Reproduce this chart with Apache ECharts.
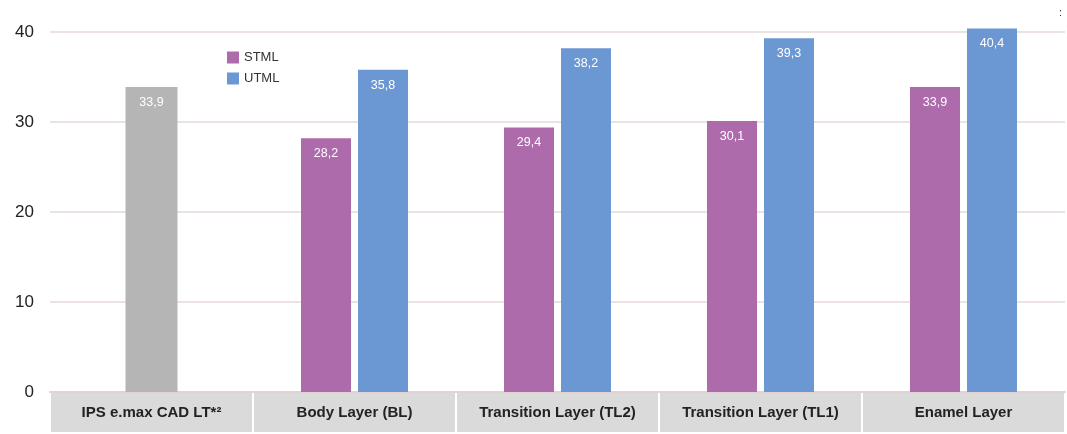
<!DOCTYPE html>
<html><head><meta charset="utf-8">
<script src="https://cdn.jsdelivr.net/npm/echarts@6/dist/echarts.min.js"></script>
<style>html,body{margin:0;padding:0;background:#fff}#c{width:1067px;height:434px}</style>
</head><body><div id="c"></div>
<script>
const categories = ['IPS e.max CAD LT*²', 'Body Layer (BL)', 'Transition Layer (TL2)', 'Transition Layer (TL1)', 'Enamel Layer'];
const refValues = [33.9, null, null, null, null];
const stmlValues = [null, 28.2, 29.4, 30.1, 33.9];
const utmlValues = [null, 35.8, 38.2, 39.3, 40.4];
const yTicks = [0, 10, 20, 30, 40];

const font = '"Liberation Sans", Arial, sans-serif';
const fmt = p => String(p.value).replace('.', ',');
const barLabel = {show: true, position: 'insideTop', distance: 9, color: '#fff', fontSize: 12.5, fontFamily: font, formatter: fmt};

const chart = echarts.init(document.getElementById('c'), null, {renderer: 'canvas'});
chart.setOption({
  animation: false,
  backgroundColor: '#fff',
  title: {text: ':', right: 0, top: 2, textStyle: {fontSize: 11, color: '#333', fontWeight: 'normal'}},
  legend: {
    orient: 'vertical', left: 222, top: 46, itemWidth: 12, itemHeight: 12, itemGap: 8,
    icon: 'rect', data: ['STML', 'UTML'],
    textStyle: {fontFamily: font, fontSize: 13, color: '#333'}
  },
  grid: {left: 50, right: 2, top: 32, bottom: 42},
  xAxis: [{
    type: 'category', data: categories,
    axisLine: {show: true, lineStyle: {color: '#e2d3d3', width: 2}},
    axisTick: {show: false},
    axisLabel: {
      interval: 0, margin: 1, width: 201, height: 39, lineHeight: 39,
      backgroundColor: '#dadada', align: 'center', verticalAlign: 'top',
      fontFamily: font, fontWeight: 'bold', fontSize: 15, color: '#222'
    }
  }, {
    type: 'category', data: categories, show: false
  }],
  yAxis: {
    type: 'value', min: yTicks[0], max: yTicks[yTicks.length - 1], interval: 10,
    axisLine: {show: false}, axisTick: {show: false},
    axisLabel: {margin: 16, fontFamily: font, fontSize: 17, color: '#222'},
    splitLine: {lineStyle: {color: '#e6d9d9', width: 1.5}}
  },
  series: [
    {name: 'IPS', type: 'bar', xAxisIndex: 1, data: refValues, barWidth: 52, clip: false,
     itemStyle: {color: '#b5b5b5'}, label: barLabel},
    {name: 'STML', type: 'bar', xAxisIndex: 0, data: stmlValues, barWidth: 50, barGap: '14%', clip: false,
     itemStyle: {color: '#ad6bac'}, label: barLabel},
    {name: 'UTML', type: 'bar', xAxisIndex: 0, data: utmlValues, barWidth: 50, barGap: '14%', clip: false,
     itemStyle: {color: '#6b97d3'}, label: barLabel}
  ]
});
</script></body></html>
